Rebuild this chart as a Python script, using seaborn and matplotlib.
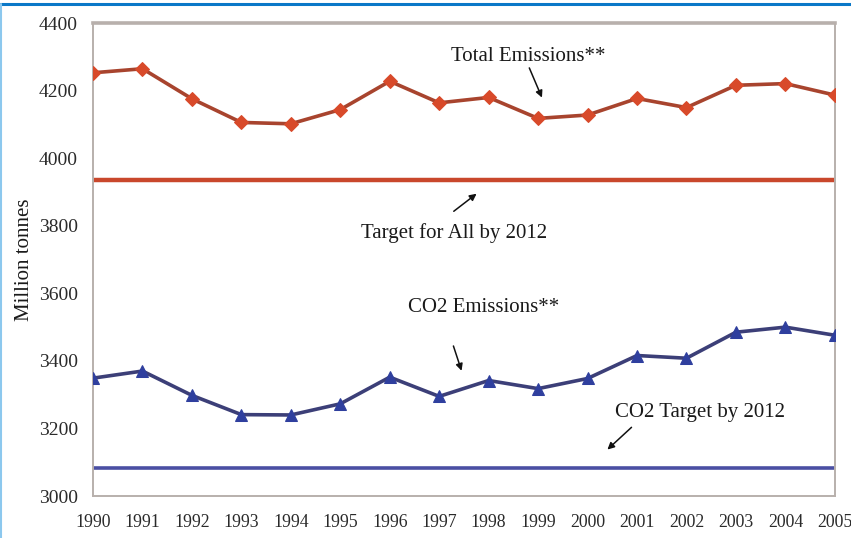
import numpy as np
import pandas as pd
import seaborn as sns
from matplotlib import pyplot as plt
from matplotlib.lines import Line2D

# data
years = list(range(1990, 2006))
total_emissions = [4253, 4265, 4176, 4106, 4102, 4144, 4228, 4164, 4180, 4118,
                   4128, 4177, 4150, 4216, 4221, 4187]
co2_emissions = [3349, 3370, 3298, 3241, 3240, 3273, 3352, 3295, 3342, 3318,
                 3348, 3416, 3408, 3485, 3500, 3476]
target_all = 3935
target_co2 = 3082

df = pd.DataFrame({'year': years, 'total': total_emissions, 'co2': co2_emissions})

sns.set_style('white')
plt.rcParams['font.family'] = ['Liberation Serif', 'DejaVu Serif']

fig = plt.figure(figsize=(8.51, 5.38), dpi=100)
ax = fig.add_axes([0.1093, 0.078, 0.8717, 0.879])

# target lines
ax.axhline(target_all, color='#c9472c', lw=3.2, zorder=2)
ax.axhline(target_co2, color='#4a4fa3', lw=2.6, zorder=2)

# emission curves
sns.lineplot(data=df, x='year', y='total', ax=ax, color='#a8442e', lw=2.6,
             marker='D', markersize=7, markerfacecolor='#d84a2a',
             markeredgecolor='#d84a2a', zorder=3)
sns.lineplot(data=df, x='year', y='co2', ax=ax, color='#3c3f78', lw=2.6,
             marker='^', markersize=9, markerfacecolor='#2f3f9e',
             markeredgecolor='#2f3f9e', zorder=3)

ax.set_xlim(1990, 2005)
ax.set_ylim(3000, 4400)
ax.set_xticks(years)
ax.set_xticklabels([str(y) for y in years])
ax.set_yticks(np.arange(3000, 4401, 200))
ax.tick_params(axis='both', colors='#2a2a2a', length=0)
ax.tick_params(axis='x', pad=13, labelsize=12.8)
ax.tick_params(axis='y', pad=11, labelsize=14)
ax.set_xlabel('')
ax.set_ylabel('Million tonnes', fontsize=15, color='#1a1a1a', labelpad=3)
for s in ax.spines.values():
    s.set_color('#b8b0ac')
    s.set_linewidth(1.4)
ax.spines['top'].set_linewidth(2.6)

arrow = dict(arrowstyle='-|>', color='#111111', lw=1.1, mutation_scale=10)
txt = dict(fontsize=15, color='#1a1a1a', ha='center', va='center')

ax.text(1998.8, 4300, 'Total Emissions**', **txt)
ax.annotate('', xy=(1999.1, 4172), xytext=(1998.8, 4275), arrowprops=arrow)

ax.annotate('', xy=(1997.8, 3900), xytext=(1997.25, 3838), arrowprops=arrow)
ax.text(1997.3, 3778, 'Target for All by 2012', **txt)

ax.text(1997.9, 3559, 'CO2 Emissions**', **txt)
ax.annotate('', xy=(1997.47, 3363), xytext=(1997.27, 3452), arrowprops=arrow)

ax.text(2002.28, 3247, 'CO2 Target by 2012', **txt)
ax.annotate('', xy=(2000.36, 3132), xytext=(2000.93, 3209), arrowprops=arrow)

# frame lines of the original page
fig.add_artist(Line2D([0, 1], [0.992, 0.992], transform=fig.transFigure,
                      color='#0a78c8', lw=2.2))
fig.add_artist(Line2D([0.0015, 0.0015], [0, 0.992], transform=fig.transFigure,
                      color='#8cc8ee', lw=1.5))

fig.savefig('out.png', dpi=100)
